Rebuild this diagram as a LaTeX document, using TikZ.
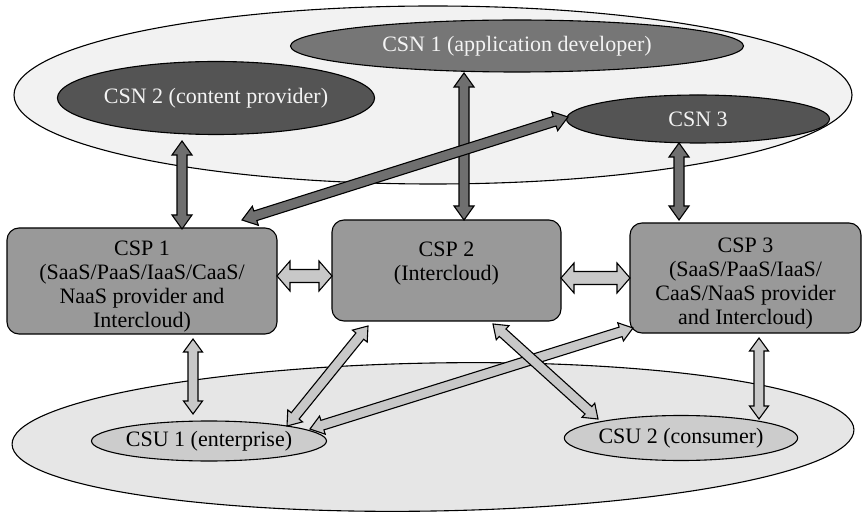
\documentclass[tikz,border=0pt]{standalone}
\usepackage{fontspec}
\setmainfont{Liberation Serif}
\usetikzlibrary{shapes.geometric,calc}
\definecolor{bgtop}{HTML}{F2F2F2}
\definecolor{bgbot}{HTML}{E6E6E6}
\definecolor{csnone}{HTML}{767676}
\definecolor{csndark}{HTML}{545454}
\definecolor{cspfill}{HTML}{999999}
\definecolor{csufill}{HTML}{CCCCCC}
\definecolor{darkarr}{HTML}{6F6F6F}
\definecolor{lightarr}{HTML}{C8C8C8}
\definecolor{csntext}{HTML}{F4F4F4}
% #1 style, #2 tip A, #3 tip B, #4 shaft half width, #5 head half width, #6 head length
\newcommand\blockarr[6]{%
  \filldraw[#1] (#2)
  -- ($(#2)!#6!(#3)!#5!90:(#3)$)
  -- ($(#2)!#6!(#3)!#4!90:(#3)$)
  -- ($(#3)!#6!(#2)!#4!270:(#2)$)
  -- ($(#3)!#6!(#2)!#5!270:(#2)$)
  -- (#3)
  -- ($(#3)!#6!(#2)!#5!90:(#2)$)
  -- ($(#3)!#6!(#2)!#4!90:(#2)$)
  -- ($(#2)!#6!(#3)!#4!270:(#3)$)
  -- ($(#2)!#6!(#3)!#5!270:(#3)$)
  -- cycle;}
\begin{document}
\begin{tikzpicture}[x=0.5pt,y=-0.5pt,
  font=\fontsize{11}{12}\selectfont,
  line width=0.55pt,
  cloud/.style={ellipse,draw,inner sep=0pt},
  csnnode/.style={ellipse,draw,inner sep=0pt,text=csntext},
  cspnode/.style={rectangle,rounded corners=6pt,draw,fill=cspfill,inner sep=0pt,align=center},
  csunode/.style={ellipse,draw,fill=csufill,inner sep=0pt},
  darkstyle/.style={fill=darkarr,draw=black,line join=miter},
  lightstyle/.style={fill=lightarr,draw=black,line join=miter}]
\useasboundingbox (0,0) rectangle (862,513);

% background clouds
\node[cloud,fill=bgtop,minimum width=419pt,minimum height=89pt] (cloudN) at (433,95) {};
\node[cloud,fill=bgbot,minimum width=421pt,minimum height=74pt,rotate=1] (cloudU) at (433,437) {};

% service nodes
\node[csnnode,fill=csnone,minimum width=226.5pt,minimum height=26pt] (csnA) at (517,46) {CSN 1 (application developer)};
\node[csnnode,fill=csndark,minimum width=143.5pt,minimum height=36.5pt] (csnB) at (216,98) {CSN 2 (content provider)};
\node[csnnode,fill=csndark,minimum width=131.5pt,minimum height=24pt] (csnC) at (698,119) {CSN 3};

\node[cspnode,minimum width=135pt,minimum height=53pt] (cspA) at (142,281)
  {\rule{0pt}{12.5pt}CSP 1\\(SaaS/PaaS/IaaS/CaaS/\\NaaS provider and\\Intercloud)};
\node[cspnode,minimum width=114.5pt,minimum height=50.5pt] (cspB) at (446.5,270.5)
  {CSP 2\\(Intercloud)\\[-3pt]};
\node[cspnode,minimum width=115.5pt,minimum height=55pt] (cspC) at (745.5,278)
  {\rule{0pt}{12.5pt}CSP 3\\(SaaS/PaaS/IaaS/\\CaaS/NaaS provider\\and Intercloud)};

\node[csunode,minimum width=112.5pt,minimum height=20pt] (csuA) at (209,441) {CSU 1 (enterprise)};
\node[csunode,minimum width=113pt,minimum height=22.5pt] (csuB) at (681,438) {CSU 2 (consumer)};

% connector end points
\coordinate (bA) at (182,141);  \coordinate (bB) at (182,229);
\coordinate (aA) at (464,73);   \coordinate (aB) at (464,220);
\coordinate (cA) at (242,220);  \coordinate (cB) at (568,117);
\coordinate (dA) at (679,143);  \coordinate (dB) at (679,220);
\coordinate (eA) at (277,276);  \coordinate (eB) at (332,276);
\coordinate (fA) at (561,278);  \coordinate (fB) at (630,278);
\coordinate (gA) at (193,339);  \coordinate (gB) at (193,414);
\coordinate (hA) at (368,326);  \coordinate (hB) at (287,426);
\coordinate (iA) at (633,328);  \coordinate (iB) at (310,429);
\coordinate (jA) at (493,324);  \coordinate (jB) at (598,419);
\coordinate (kA) at (759,338);  \coordinate (kB) at (759,419);

% dark connectors (CSN <-> CSP)
\blockarr{darkstyle}{bA}{bB}{2.5pt}{5pt}{7pt}
\blockarr{darkstyle}{aA}{aB}{2.5pt}{5pt}{7pt}
\blockarr{darkstyle}{cA}{cB}{2.5pt}{5pt}{7pt}
\blockarr{darkstyle}{dA}{dB}{2.5pt}{5pt}{7pt}

% light connectors
\blockarr{lightstyle}{eA}{eB}{3.25pt}{7.5pt}{6.5pt}
\blockarr{lightstyle}{fA}{fB}{3.25pt}{7.5pt}{6.5pt}
\blockarr{lightstyle}{gA}{gB}{2.5pt}{4.75pt}{6.5pt}
\blockarr{lightstyle}{hA}{hB}{2.5pt}{4.75pt}{6.5pt}
\blockarr{lightstyle}{iA}{iB}{2.5pt}{4.75pt}{6.5pt}
\blockarr{lightstyle}{jA}{jB}{2.5pt}{4.75pt}{6.5pt}
\blockarr{lightstyle}{kA}{kB}{2.5pt}{4.75pt}{6.5pt}
\end{tikzpicture}
\end{document}
